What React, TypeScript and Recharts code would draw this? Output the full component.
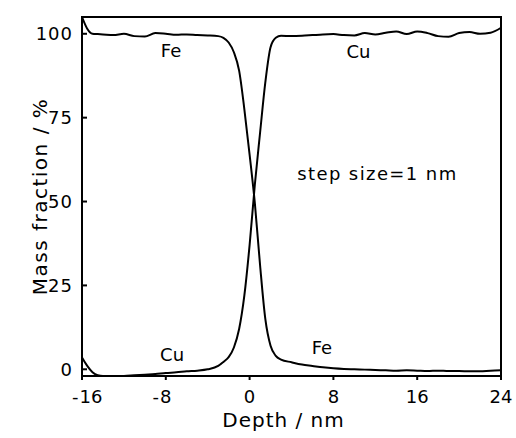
import { LineChart, Line, XAxis, YAxis, ReferenceArea, ReferenceDot } from 'recharts'

const depth = [
  -16, -15.5, -15, -14.5, -14, -13, -12, -11, -10, -9, -8, -7, -6, -5, -4, -3,
  -2.5, -2, -1.5, -1, -0.5, 0, 0.5, 1, 1.5, 2, 2.5,
  3, 4, 5, 6, 7, 8, 9, 10, 11, 12, 13, 14, 15, 16, 17, 18, 19, 20, 21, 22, 23, 24,
]

const feValues = [
  105, 101.5, 100, 99.9, 99.8, 99.6, 100, 99.3, 99.2, 100.2, 100, 99.7, 99.8, 99.6, 99.5, 99.3,
  98.8, 97.4, 94.5, 89, 77.5, 64, 49.5, 31, 15, 7, 4,
  2.9, 2.1, 1.4, 1, 0.6, 0.3, 0.1, 0, -0.1, -0.2, -0.3, -0.4, -0.3, -0.4, -0.5, -0.4, -0.5, -0.5, -0.6, -0.6, -0.4, -0.3,
]

const cuValues = [
  3.5, 1, -0.9, -1.8, -2, -2, -2, -1.8, -1.6, -1.4, -1.1, -0.9, -0.6, -0.4, 0, 1,
  2.2, 3.6, 6.5, 12, 22, 37, 55, 70.5, 85.5, 96, 98.8,
  99.4, 99.3, 99.4, 99.6, 99.8, 99.9, 99.6, 99.5, 100.2, 99.8, 100.3, 100.7, 99.9, 100.7, 100.2, 99.3, 99.1, 100.2, 100.5, 100, 100.3, 101.8,
]

const xTicks = [-16, -8, 0, 8, 16, 24]
const yTicks = [0, 25, 50, 75, 100]

// curve labels: [text, depth, mass fraction]
const curveLabels: [string, number, number][] = [
  ['Fe', -7.5, 95],
  ['Cu', 10.4, 94.7],
  ['Cu', -7.4, 4.3],
  ['Fe', 6.9, 6.6],
]

const data = depth.map((d, i) => ({ depth: d, fe: feValues[i], cu: cuValues[i] }))

const FONT = 'DejaVu Sans'

function DepthTick({ x, y, payload, index }: any) {
  const v = payload.value as number
  const digits = String(Math.abs(v))
  const half = digits.length * 5.7
  const shift = index === 0 ? 9 : 0
  return (
    <g fontFamily={FONT} fontSize={18} fill="#000">
      <text x={x + shift} y={y} dy="0.71em" textAnchor="middle">{digits}</text>
      {v < 0 && (
        <text x={x + shift - half - 1} y={y} dy="0.71em" textAnchor="end">-</text>
      )}
    </g>
  )
}

export default function App() {
  return (
    <div style={{ position: 'absolute', left: 0, top: 0, background: '#fff', fontFamily: FONT }}>
      <LineChart width={516} height={438} data={data} margin={{ top: 17, right: 15, bottom: 0, left: 0 }}>
        <XAxis
          dataKey="depth"
          type="number"
          domain={[-16, 24]}
          ticks={xTicks}
          height={62}
          axisLine={{ stroke: '#000', strokeWidth: 2 }}
          tickLine={{ stroke: '#000', strokeWidth: 2 }}
          tickSize={4}
          tickMargin={10}
          tick={<DepthTick />}
          label={{ value: 'Depth / nm', position: 'insideBottom', offset: 11, dx: -8, fill: '#000', fontSize: 20, letterSpacing: 1 }}
        />
        <YAxis
          type="number"
          domain={[-2, 105]}
          allowDataOverflow
          ticks={yTicks}
          width={82}
          axisLine={{ stroke: '#000', strokeWidth: 2 }}
          tickLine={{ stroke: '#000', strokeWidth: 2 }}
          tickSize={-5}
          tickMargin={14}
          tick={{ fill: '#000', fontSize: 18, letterSpacing: 1 }}
          label={{ value: 'Mass fraction / %', angle: -90, position: 'center', dx: -1, fill: '#000', fontSize: 20, letterSpacing: 1.5 }}
        />
        <ReferenceArea x1={-16} x2={24} y1={-2} y2={105} fill="none" stroke="#000" strokeWidth={2} ifOverflow="visible" />
        <Line type="monotone" dataKey="fe" stroke="#000" strokeWidth={2} dot={false} isAnimationActive={false} />
        <Line type="monotone" dataKey="cu" stroke="#000" strokeWidth={2} dot={false} isAnimationActive={false} />
        {curveLabels.map(([text, x, y], i) => (
          <ReferenceDot
            key={i}
            x={x}
            y={y}
            r={0}
            fill="none"
            stroke="none"
            label={{ value: text, position: 'center', fill: '#000', fontSize: 18 }}
          />
        ))}
        <ReferenceDot
          x={12.2}
          y={58.4}
          r={0}
          fill="none"
          stroke="none"
          label={{ value: 'step size=1 nm', position: 'center', fill: '#000', fontSize: 18, letterSpacing: 1.4 }}
        />
      </LineChart>
    </div>
  )
}
